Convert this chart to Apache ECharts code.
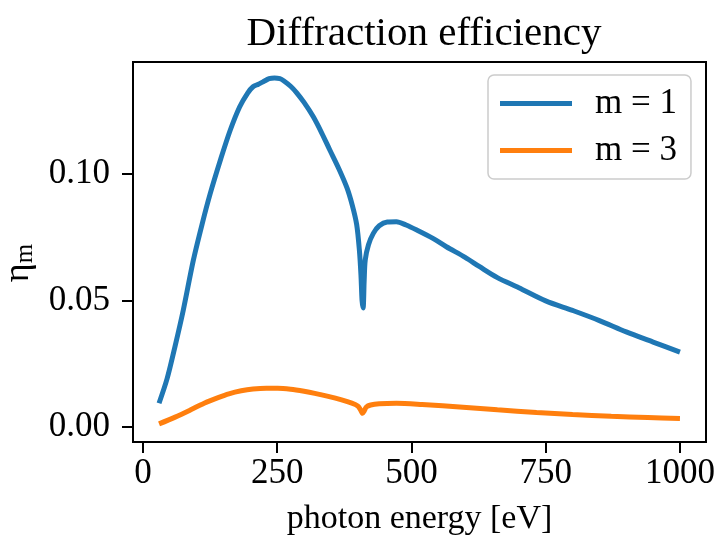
<!DOCTYPE html>
<html>
<head>
<meta charset="utf-8">
<script src="https://cdn.jsdelivr.net/npm/echarts@6/dist/echarts.min.js"></script>
<style>html,body{margin:0;padding:0;background:#fff}#c{width:716px;height:537px}</style>
</head>
<body>
<div id="c"></div>
<script>
var titleText = 'Diffraction efficiency';
var xName = 'photon energy [eV]';
var seriesNames = ['m = 1', 'm = 3'];
var xTicks = [0, 250, 500, 750, 1000];
var yTicks = [0, 0.05, 0.10];

var energy1 = [30,45,60,75,94,110,125,145,162,180,195,205,215,224,235,245,255,262,275,286,300,317,333,348,365,380,390,398,403,406,408,410,412,414,420,429,440,455,472,490,510,540,565,600,627,660,700,750,800,850,900,950,1000];
var eta1 = [0.0093,0.019,0.032,0.046,0.066,0.080,0.092,0.106,0.117,0.1265,0.132,0.1345,0.1355,0.1365,0.1377,0.1380,0.1377,0.1369,0.1347,0.1322,0.1283,0.1227,0.1162,0.1095,0.1020,0.0945,0.0875,0.080,0.070,0.060,0.050,0.047,0.058,0.066,0.072,0.0765,0.0795,0.081,0.0811,0.0798,0.0778,0.0745,0.0712,0.067,0.0633,0.059,0.055,0.0498,0.046,0.042,0.0375,0.0335,0.0295];

var energy3 = [30,60,90,114,140,160,183,205,230,251,275,300,320,345,370,389,400,405,409,412,416,424,440,472,520,596,660,733,800,872,940,1000];
var eta3 = [0.0011,0.0038,0.0068,0.0093,0.0115,0.013,0.0142,0.0149,0.0152,0.0152,0.0148,0.0140,0.0132,0.0120,0.0106,0.0093,0.0082,0.0068,0.0053,0.0062,0.0078,0.0086,0.0091,0.0093,0.0088,0.0077,0.0067,0.0056,0.0048,0.0041,0.0036,0.0032];

function pairs(xs, ys){ return xs.map(function(x,i){ return [x, ys[i]]; }); }

var FONT = 'Liberation Serif';
var chart = echarts.init(document.getElementById('c'), null, {renderer:'canvas'});
chart.setOption({
  animation: false,
  backgroundColor: '#fff',
  title: {
    text: titleText, left: 419, top: 9, textAlign: 'center',
    textStyle: {fontFamily: FONT, fontSize: 41, fontWeight: 'normal', color: '#000'}
  },
  grid: {left: 133, right: 10, top: 62, bottom: 95, show: true, borderColor: '#000', borderWidth: 2, backgroundColor: 'transparent', containLabel: false, outerBoundsMode: 'none'},
  legend: {
    orient: 'vertical', left: 488, top: 75,
    padding: [11, 14, 11, 12], itemGap: 12, itemWidth: 72, itemHeight: 5, icon: 'rect',
    backgroundColor: '#fff', borderColor: '#cccccc', borderWidth: 1.5, borderRadius: 6,
    textStyle: {fontFamily: FONT, fontSize: 35, color: '#000', padding: [0,0,0,18], lineHeight: 35},
    data: seriesNames
  },
  xAxis: {
    type: 'value', min: -18.5, max: 1048.5,
    name: xName, nameLocation: 'middle', nameGap: 60,
    nameTextStyle: {fontFamily: FONT, fontSize: 34, color: '#000'},
    axisLine: {show: true, onZero: false, lineStyle: {color: '#000', width: 2}},
    axisTick: {show: true, inside: false, length: 11, lineStyle: {color: '#000', width: 2}, customValues: xTicks},
    axisLabel: {fontFamily: FONT, fontSize: 35, color: '#000', margin: 14, customValues: xTicks, formatter: function(v){ return String(v); }},
    splitLine: {show: false}
  },
  yAxis: {
    type: 'value', min: -0.00605, max: 0.1443,
    name: '{a|η}{b|m}', nameLocation: 'middle', nameGap: 92, nameRotate: 90,
    nameTextStyle: {fontFamily: FONT, fontSize: 35, color: '#000', padding: [0, 22, 0, 0],
      rich: {a: {fontFamily: FONT, fontSize: 36, color: '#000'}, b: {fontFamily: FONT, fontSize: 25, color: '#000', padding: [14,0,0,0]}}},
    axisLine: {show: true, onZero: false, lineStyle: {color: '#000', width: 2}},
    axisTick: {show: true, inside: false, length: 11, lineStyle: {color: '#000', width: 2}, customValues: yTicks},
    axisLabel: {fontFamily: FONT, fontSize: 35, color: '#000', margin: 23, customValues: yTicks, formatter: function(v){ return v.toFixed(2); }},
    splitLine: {show: false}
  },
  series: [
    {name: seriesNames[0], type: 'line', data: pairs(energy1, eta1), symbol: 'none', smooth: 0.3,
     lineStyle: {color: '#1f77b4', width: 5}, itemStyle: {color: '#1f77b4'}},
    {name: seriesNames[1], type: 'line', data: pairs(energy3, eta3), symbol: 'none', smooth: 0.3,
     lineStyle: {color: '#ff7f0e', width: 5}, itemStyle: {color: '#ff7f0e'}}
  ]
});
</script>
</body>
</html>
